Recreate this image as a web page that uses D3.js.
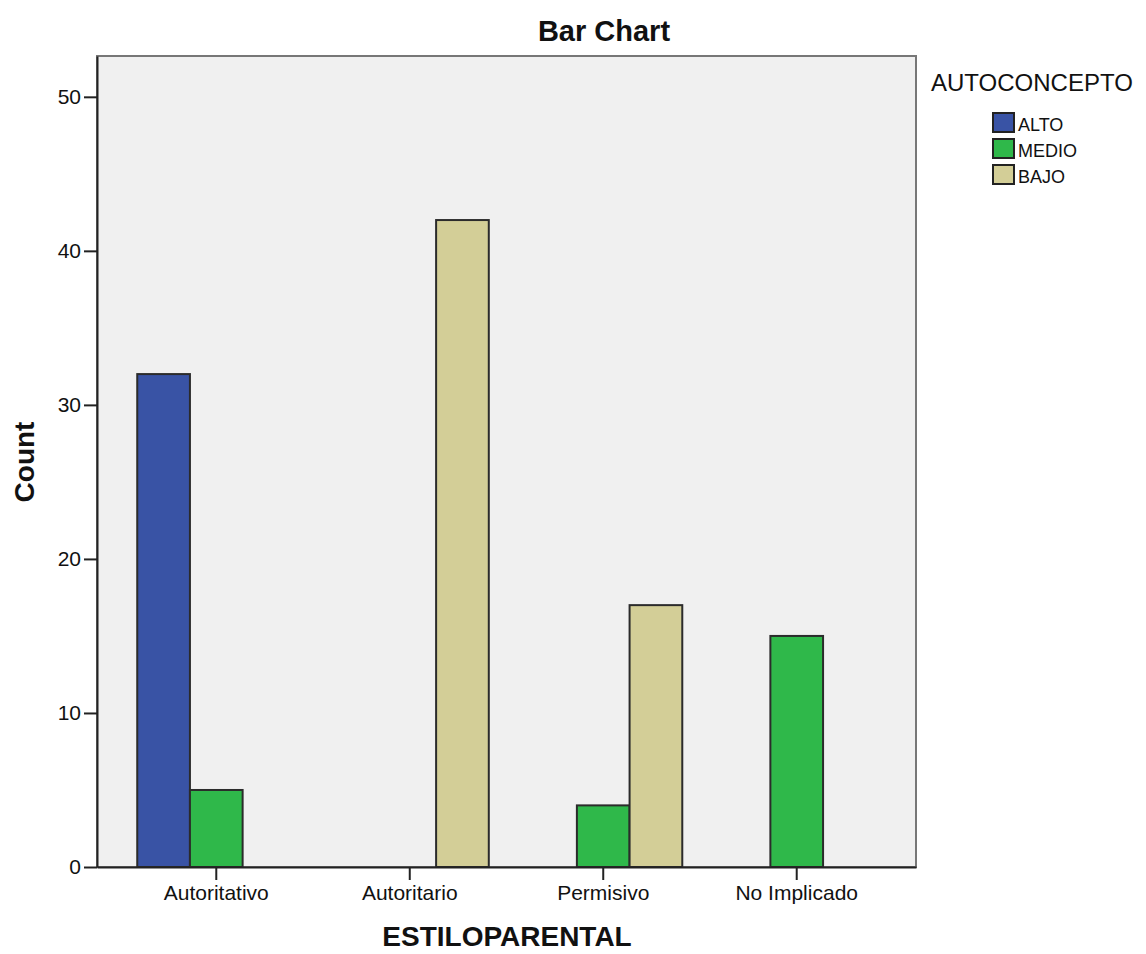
<!DOCTYPE html>
<html lang="es">
<head>
    <meta charset="UTF-8">
    <title>Bar Chart</title>
    <script src="https://d3js.org/d3.v7.min.js"></script>
    <style>
        body { margin: 0; background: #fff; }
        text { font-family: "Liberation Sans", Arial, sans-serif; fill: #111; }
    </style>
</head>
<body>
<svg id="chart"></svg>

<script>
    // datos
    var categories = ["Autoritativo", "Autoritario", "Permisivo", "No Implicado"];
    var series = ["ALTO", "MEDIO", "BAJO"];
    var alto  = [32, 0, 0, 0];
    var medio = [5, 0, 4, 15];
    var bajo  = [0, 42, 17, 0];
    var yTicks = [0, 10, 20, 30, 40, 50];
    var colors = ["#3953a5", "#2fb84a", "#d3ce97"];

    (function() {
        var width = 1146;
        var height = 954;
        var plot = { left: 97, top: 56, right: 916, bottom: 867 };

        var svg = d3.select("#chart")
            .attr("width", width)
            .attr("height", height);

        var x0 = d3.scaleBand()
            .domain(categories)
            .range([plot.left, plot.right])
            .paddingInner(0.183)
            .paddingOuter(0.208);

        var x1 = d3.scaleBand()
            .domain(series)
            .range([0, x0.bandwidth()]);

        var y = d3.scaleLinear()
            .domain([0, 52.65])
            .range([plot.bottom, plot.top]);

        var color = d3.scaleOrdinal().domain(series).range(colors);

        // fondo del área
        svg.append("rect")
            .attr("x", plot.left)
            .attr("y", plot.top)
            .attr("width", plot.right - plot.left)
            .attr("height", plot.bottom - plot.top)
            .attr("fill", "#f0f0f0")
            .attr("stroke", "#777")
            .attr("stroke-width", 2);

        // filas para las barras (los ceros no se dibujan)
        var rows = [];
        categories.forEach(function(c, i) {
            [alto, medio, bajo].forEach(function(arr, j) {
                if (arr[i] > 0) rows.push({ cat: c, key: series[j], value: arr[i] });
            });
        });

        svg.append("g")
            .selectAll("rect")
            .data(rows)
            .enter()
            .append("rect")
            .attr("x", function(d) { return x0(d.cat) + x1(d.key); })
            .attr("y", function(d) { return y(d.value); })
            .attr("width", x1.bandwidth())
            .attr("height", function(d) { return y(0) - y(d.value); })
            .attr("fill", function(d) { return color(d.key); })
            .attr("stroke", "#2b2b2b")
            .attr("stroke-width", 2);

        // eje Y
        var yAxis = svg.append("g")
            .attr("transform", "translate(" + plot.left + ",0)")
            .call(d3.axisLeft(y).tickValues(yTicks).tickSize(13).tickSizeOuter(0).tickPadding(3));
        yAxis.select(".domain").attr("stroke", "#222").attr("stroke-width", 2);
        yAxis.selectAll(".tick line").attr("stroke", "#222").attr("stroke-width", 2);
        yAxis.selectAll("text").style("font-size", "21px").attr("fill", "#111");

        // eje X
        var xAxis = svg.append("g")
            .attr("transform", "translate(0," + plot.bottom + ")")
            .call(d3.axisBottom(x0).tickSize(13).tickSizeOuter(0).tickPadding(5));
        xAxis.select(".domain").attr("stroke", "#222").attr("stroke-width", 2);
        xAxis.selectAll(".tick line").attr("stroke", "#222").attr("stroke-width", 2);
        xAxis.selectAll("text").style("font-size", "21px").attr("fill", "#111");

        // títulos
        svg.append("text")
            .attr("x", 604)
            .attr("y", 41)
            .attr("text-anchor", "middle")
            .style("font-size", "29px")
            .style("font-weight", "bold")
            .text("Bar Chart");

        svg.append("text")
            .attr("x", 507)
            .attr("y", 946)
            .attr("text-anchor", "middle")
            .style("font-size", "28px")
            .style("font-weight", "bold")
            .text("ESTILOPARENTAL");

        svg.append("text")
            .attr("transform", "translate(34,462)rotate(-90)")
            .attr("text-anchor", "middle")
            .style("font-size", "28px")
            .style("font-weight", "bold")
            .text("Count");

        // leyenda
        var legend = svg.append("g");
        legend.append("text")
            .attr("x", 931)
            .attr("y", 91)
            .style("font-size", "24px")
            .attr("fill", "#222")
            .text("AUTOCONCEPTO");

        var items = legend.selectAll("g.item")
            .data(series)
            .enter()
            .append("g")
            .attr("class", "item")
            .attr("transform", function(d, i) { return "translate(993," + (113 + i * 26) + ")"; });

        items.append("rect")
            .attr("width", 21)
            .attr("height", 19)
            .attr("fill", function(d) { return color(d); })
            .attr("stroke", "#222")
            .attr("stroke-width", 2);

        items.append("text")
            .attr("x", 25)
            .attr("y", 18)
            .style("font-size", "18px")
            .attr("fill", "#111")
            .text(function(d) { return d; });
    })();
</script>
</body>
</html>
